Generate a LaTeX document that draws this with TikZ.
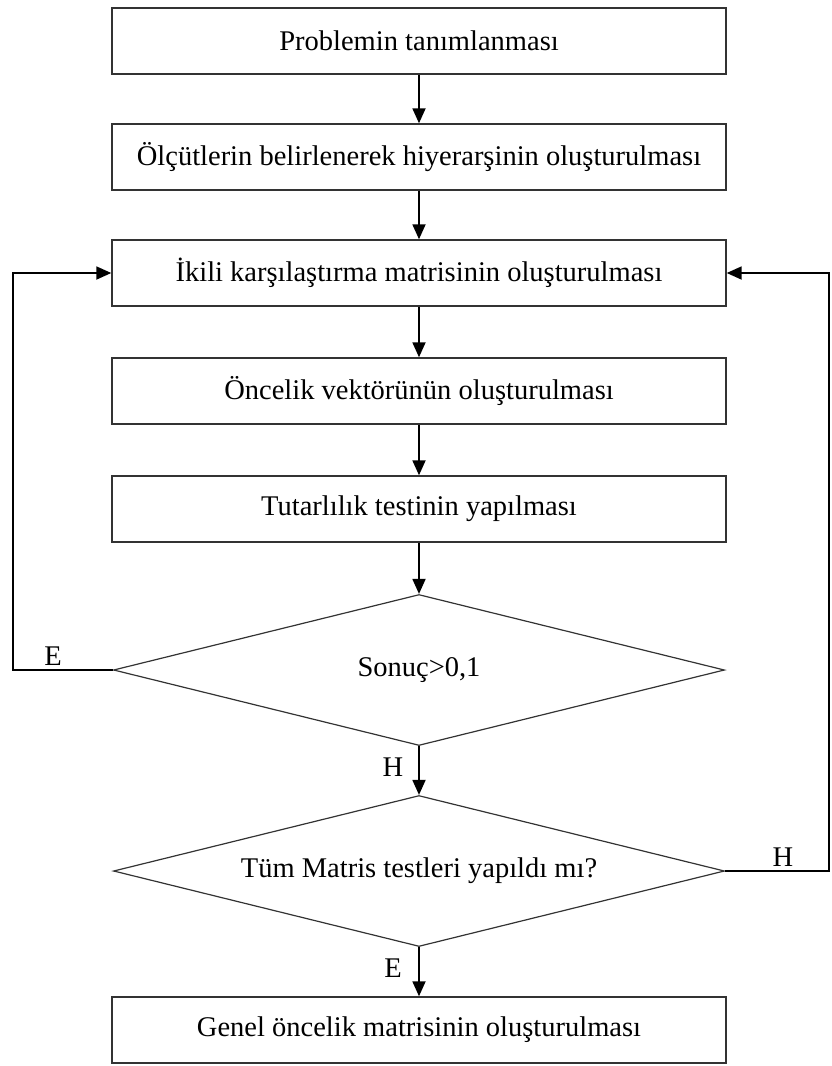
\documentclass[tikz,border=0pt]{standalone}
\usepackage{fontspec}
\setmainfont{Liberation Serif}
\usetikzlibrary{shapes.geometric,arrows.meta}

\begin{document}
\begin{tikzpicture}[x=1pt,y=-1pt,
  every node/.style={font=\fontsize{28.5}{32}\selectfont},
  procbox/.style={draw=black!80,line width=1.4pt,rectangle,minimum width=614pt,minimum height=66pt,inner sep=0pt},
  decision/.style={draw=black!80,line width=1.2pt,diamond,aspect=4.05,minimum width=611pt,minimum height=151pt,inner sep=0pt},
  flow/.style={draw=black,line width=1.8pt,-{Triangle[length=15pt,width=13pt]}},
  tag/.style={inner sep=0pt}
]
% page frame
\useasboundingbox (0,0) rectangle (831,1066);

% process steps
\node[procbox] (b1) at (419,41)  {Problemin tanımlanması};
\node[procbox] (b2) at (419,157) {Ölçütlerin belirlenerek hiyerarşinin oluşturulması};
\node[procbox] (b3) at (419,273) {İkili karşılaştırma matrisinin oluşturulması};
\node[procbox] (b4) at (419,391) {Öncelik vektörünün oluşturulması};
\node[procbox] (b5) at (419,509) {Tutarlılık testinin yapılması};
\node[decision] (d1) at (419,670) {Sonuç>0,1};
\node[decision] (d2) at (419,871) {Tüm Matris testleri yapıldı mı?};
\node[procbox] (b6) at (419,1030) {Genel öncelik matrisinin oluşturulması};

% main flow
\draw[flow] (b1) -- (b2);
\draw[flow] (b2) -- (b3);
\draw[flow] (b3) -- (b4);
\draw[flow] (b4) -- (b5);
\draw[flow] (b5) -- (d1);
\draw[flow] (d1.south) -- (d2.north);
\draw[flow] (d2.south) -- (b6);

% feedback loops back to the pairwise comparison step
\coordinate (lcorner) at (13,670);
\coordinate (rcorner) at (829,871);
\draw[flow] (d1.west) -- (lcorner) |- (b3.west);
\draw[flow] (d2.east) -- (rcorner) |- (b3.east);

% branch labels
\node[tag] (le) at (53,656) {E};
\node[tag] (lh1) at (393,767) {H};
\node[tag] (lh2) at (783,857) {H};
\node[tag] (le2) at (393,968) {E};
\end{tikzpicture}
\end{document}
